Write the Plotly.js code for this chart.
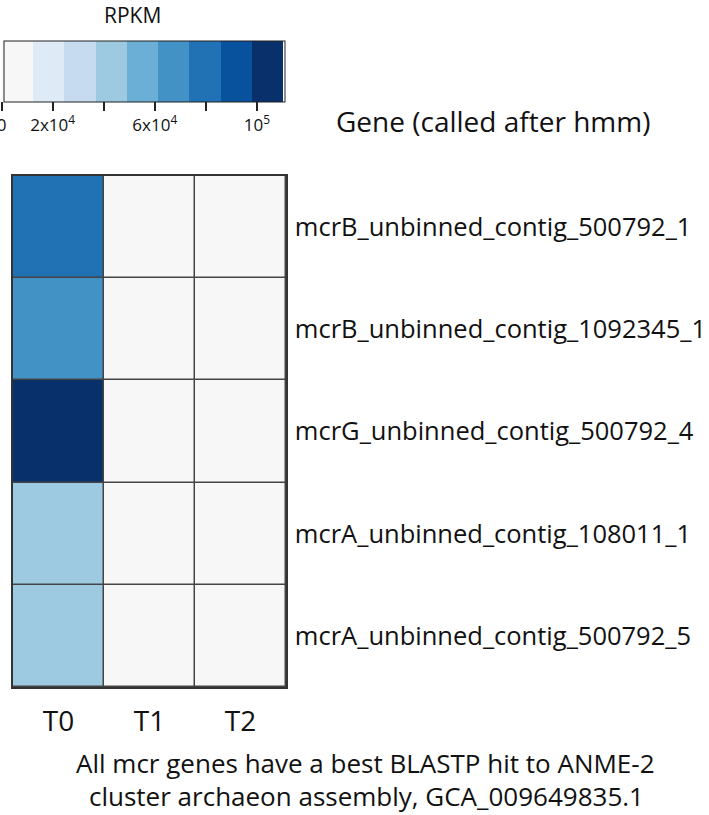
<!DOCTYPE html>
<html>
<head>
<meta charset="utf-8">
<script src="https://cdn.plot.ly/plotly-3.0.1.min.js"></script>
<style>html,body{margin:0;padding:0;background:#fff;}#chart{width:709px;height:815px;}</style>
</head>
<body>
<div id="chart"></div>
<script>
const samples = ["T0", "T1", "T2"];
const genes = [
  "mcrB_unbinned_contig_500792_1",
  "mcrB_unbinned_contig_1092345_1",
  "mcrG_unbinned_contig_500792_4",
  "mcrA_unbinned_contig_108011_1",
  "mcrA_unbinned_contig_500792_5"
];
const rpkmT0 = [80000, 67000, 105000, 42000, 42000];
const rpkmT1 = [0, 0, 0, 0, 0];
const rpkmT2 = [0, 0, 0, 0, 0];
const binColors = ["#f7f7f7", "#deebf7", "#c6dbef", "#9ecae1", "#6baed6", "#4292c6", "#2171b5", "#08519c", "#08306b"];
const colorbarTickVals = [0, 20000, 40000, 60000, 80000, 100000];
const colorbarTickText = ["0", "2x10<sup>4</sup>", "", "6x10<sup>4</sup>", "", "10<sup>5</sup>"];
const zMax = 110000;

const FONT = "Open Sans, sans-serif";

// plot area in pixels (for converting annotation positions)
const PL = 13, PR = 286, PT = 176, PB = 687;
const px2x = p => (p - PL) / (PR - PL);
const px2y = p => (PB - p) / (PB - PT);

const cs = [];
binColors.forEach((c, i) => {
  cs.push([i / binColors.length, c]);
  cs.push([(i + 1) / binColors.length, c]);
});

const z = genes.map((g, i) => [rpkmT0[i], rpkmT1[i], rpkmT2[i]]);

const trace = {
  type: "heatmap",
  x: samples,
  y: genes,
  z: z,
  zmin: 0,
  zmax: zMax,
  colorscale: cs,
  xgap: 1.5,
  ygap: 1.5,
  hoverinfo: "x+y+z",
  colorbar: {
    orientation: "h",
    xref: "container",
    yref: "container",
    x: 4 / 709,
    xanchor: "left",
    y: 1 - 41 / 815,
    yanchor: "top",
    len: 281,
    lenmode: "pixels",
    thickness: 61,
    thicknessmode: "pixels",
    outlinewidth: 1,
    outlinecolor: "#222",
    xpad: 0,
    ypad: 0,
    ticks: "outside",
    ticklen: 9,
    tickwidth: 1.5,
    tickcolor: "#222",
    tickvals: colorbarTickVals,
    ticktext: colorbarTickText,
    tickfont: {family: FONT, size: 17, color: "#111"}
  }
};

const layout = {
  width: 709,
  height: 815,
  margin: {l: PL, r: 709 - PR, t: PT, b: 815 - PB},
  paper_bgcolor: "#fff",
  plot_bgcolor: "#444",
  font: {family: FONT, color: "#111"},
  xaxis: {
    type: "category",
    range: [-0.5, 2.5],
    autorange: false,
    showgrid: false,
    zeroline: false,
    showline: true,
    mirror: true,
    linecolor: "#333",
    linewidth: 1.5,
    ticks: "",
    ticklabelstandoff: 9,
    tickfont: {family: FONT, size: 28, color: "#111"}
  },
  yaxis: {
    type: "category",
    range: [4.5, -0.5],
    autorange: false,
    side: "right",
    showgrid: false,
    zeroline: false,
    showline: true,
    mirror: true,
    linecolor: "#333",
    linewidth: 1.5,
    ticks: "",
    ticklabelstandoff: 2,
    tickfont: {family: FONT, size: 25.5, color: "#111"}
  },
  annotations: [
    {
      text: "RPKM",
      xref: "paper", yref: "paper",
      x: px2x(132), y: px2y(15),
      xanchor: "center", yanchor: "middle",
      showarrow: false,
      font: {family: FONT, size: 21, color: "#111"}
    },
    {
      text: "Gene (called after hmm)",
      xref: "paper", yref: "paper",
      x: px2x(493), y: px2y(121),
      xanchor: "center", yanchor: "middle",
      showarrow: false,
      font: {family: FONT, size: 28, color: "#111"}
    },
    {
      text: "All mcr genes have a best BLASTP hit to ANME-2",
      xref: "paper", yref: "paper",
      x: px2x(365), y: px2y(763),
      xanchor: "center", yanchor: "middle",
      showarrow: false,
      font: {family: FONT, size: 26, color: "#111"}
    },
    {
      text: "cluster archaeon assembly, GCA_009649835.1",
      xref: "paper", yref: "paper",
      x: px2x(366), y: px2y(796),
      xanchor: "center", yanchor: "middle",
      showarrow: false,
      font: {family: FONT, size: 26, color: "#111"}
    }
  ]
};

Plotly.newPlot("chart", [trace], layout, {displayModeBar: false, responsive: false});
</script>
</body>
</html>
